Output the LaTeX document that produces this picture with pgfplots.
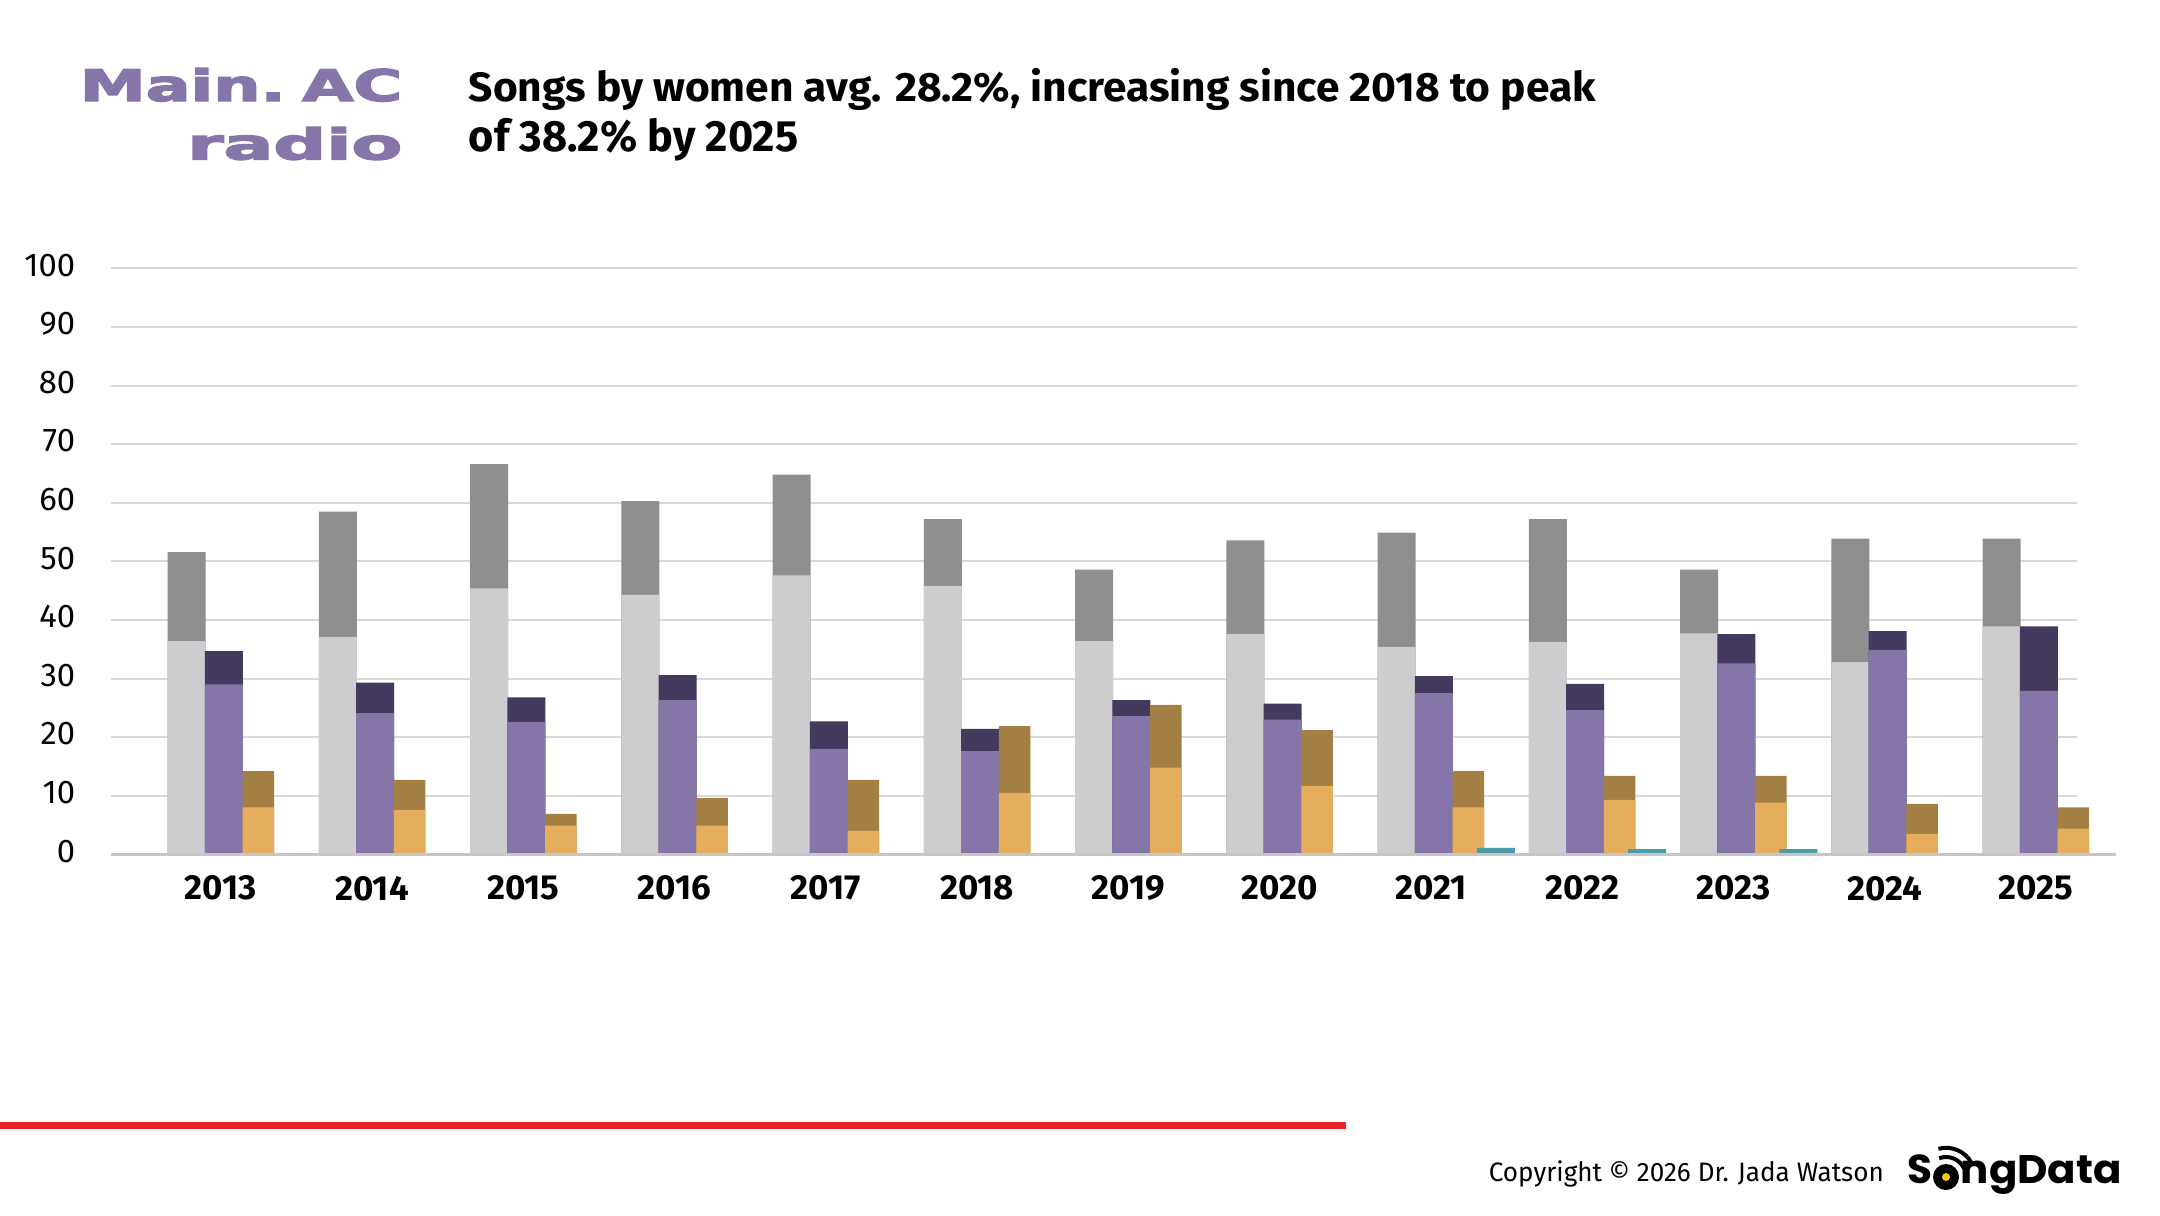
\documentclass[border=0pt]{standalone}
\usepackage{pgfplots}
\usepackage{pgfplotstable}
\usepackage{fontspec}
\pgfplotsset{compat=1.18}
\setmainfont{Fira Sans}
\newfontfamily\heavy{DejaVu Sans}[BoldFeatures={FakeBold=3}]
\newfontfamily\poppins{Poppins}

\definecolor{lgray}{HTML}{CDCDD0}
\definecolor{dgray}{HTML}{8F8F8F}
\definecolor{lpurp}{HTML}{8675A9}
\definecolor{dpurp}{HTML}{433A5E}
\definecolor{lorange}{HTML}{E5AE5C}
\definecolor{brown}{HTML}{A47F43}
\definecolor{teal}{HTML}{4A9AA8}
\definecolor{gridc}{HTML}{D9D9D9}
\definecolor{redline}{HTML}{E52329}
\definecolor{vinyl}{HTML}{F5C518}

% i = year index (2013 = 0); lo = lower part, hi = top of stack
\pgfplotstableread{
i  glo  ghi  plo  phi  olo  ohi
0  36.4 51.6 29.0 34.7 8.0  14.2
1  37.1 58.5 24.1 29.3 7.6  12.7
2  45.4 66.6 22.6 26.8 4.9  6.9
3  44.3 60.3 26.3 30.6 4.9  9.6
4  47.6 64.8 18.0 22.7 4.0  12.7
5  45.8 57.2 17.6 21.4 10.5 21.9
6  36.4 48.6 23.6 26.3 14.8 25.5
7  37.6 53.6 23.0 25.7 11.7 21.2
8  35.4 54.9 27.5 30.4 8.0  14.2
9  36.2 57.2 24.6 29.1 9.3  13.4
10 37.7 48.6 32.6 37.6 8.8  13.4
11 32.8 53.9 34.9 38.1 3.5  8.6
12 38.9 53.9 27.9 38.9 4.4  8.0
}\datatable

\pgfplotstableread{
i  t
8  1.1
9  0.9
10 0.9
}\tealtable

\begin{document}
\begin{tikzpicture}
\useasboundingbox (0,0) rectangle (540pt,303.75pt);

% header
\node[anchor=base east, inner sep=0, text=lpurp] at (100.75pt,278.5pt)
  {\resizebox{80.6pt}{8.25pt}{\heavy\bfseries Main.\kern-0.1em\ AC}};
\node[anchor=base east, inner sep=0, text=lpurp] at (100.75pt,263.9pt)
  {\resizebox{53.75pt}{8.1pt}{\heavy\bfseries radio}};
\node[anchor=base west, inner sep=0] at (117pt,278.3pt)
  {\resizebox{281.75pt}{8.3pt}{\bfseries Songs by women avg. 28.2\%, increasing since 2018 to peak}};
\node[anchor=base west, inner sep=0] at (117pt,265.8pt)
  {\resizebox{82.4pt}{8.3pt}{\bfseries of 38.2\% by 2025}};

\begin{axis}[
  at={(27.75pt,90.18pt)}, anchor=south west,
  scale only axis, width=491.5pt, height=146.45pt,
  xmin=-0.7263, xmax=12.272, ymin=0, ymax=100,
  enlargelimits=false, clip=false,
  axis line style={draw=none}, major tick style={draw=none},
  ytick={0,10,...,100},
  xtick={0,...,12},
  xticklabels={2013,2014,2015,2016,2017,2018,2019,2020,2021,2022,2023,2024,2025},
  ymajorgrids, grid style={draw=gridc, line width=0.5pt},
  /pgf/number format/assume math mode=true,
  yticklabel style={font=\fontsize{8.2}{9}\selectfont, inner sep=0pt, xshift=-8.75pt, yshift=0.8pt},
  xticklabel style={font=\fontsize{8.7}{10}\selectfont\bfseries, inner sep=0pt, yshift=-5.2pt},
]
% gray
\addplot[ybar, bar shift=0pt, bar width=0.2512, fill=dgray, draw=none]
  table[x expr=\thisrow{i}-0.2258, y=ghi] {\datatable};
\addplot[ybar, bar shift=0pt, bar width=0.2512, fill=lgray, draw=none]
  table[x expr=\thisrow{i}-0.2258, y=glo] {\datatable};
% purple
\addplot[ybar, bar shift=0pt, bar width=0.2512, fill=dpurp, draw=none]
  table[x expr=\thisrow{i}+0.0198, y=phi] {\datatable};
\addplot[ybar, bar shift=0pt, bar width=0.2512, fill=lpurp, draw=none]
  table[x expr=\thisrow{i}+0.0198, y=plo] {\datatable};
% orange
\addplot[ybar, bar shift=0pt, bar width=0.207, fill=brown, draw=none]
  table[x expr=\thisrow{i}+0.248, y=ohi] {\datatable};
\addplot[ybar, bar shift=0pt, bar width=0.207, fill=lorange, draw=none]
  table[x expr=\thisrow{i}+0.248, y=olo] {\datatable};
% teal
\addplot[ybar, bar shift=0pt, bar width=0.2512, fill=teal, draw=none]
  table[x expr=\thisrow{i}+0.4298, y=t] {\tealtable};

\draw[line width=0.85pt, gridc!90!black!95] (axis cs:-0.7263,0) -- (axis cs:12.53,0);
\end{axis}

% footer
\fill[redline] (0pt,21.5pt) rectangle (336.5pt,23.25pt);
\node[anchor=base west, inner sep=0] at (372pt,8.3pt)
  {\resizebox{98.75pt}{5.2pt}{Copyright \textcopyright{} 2026 Dr. Jada Watson}};
\node[anchor=base west, inner sep=0] at (476.75pt,8pt)
  {\resizebox{6.25pt}{7.2pt}{\poppins\bfseries S}};
\fill[black] (486.5pt,9.5pt) circle (3.25pt);
\fill[vinyl] (486.5pt,9.5pt) circle (1pt);
\draw[line width=1pt] ([shift={(25:5pt)}]486.5pt,9.5pt) arc (25:110:5pt);
\draw[line width=1pt] ([shift={(30:7.3pt)}]486.5pt,9.5pt) arc (30:105:7.3pt);
\node[anchor=base west, inner sep=0] at (490pt,8pt)
  {\resizebox{40.25pt}{7pt}{\poppins\bfseries ngData}};
\end{tikzpicture}
\end{document}
